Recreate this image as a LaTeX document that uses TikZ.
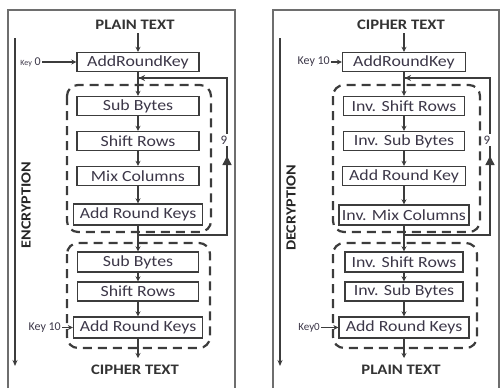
\documentclass[tikz,border=0pt]{standalone}
\usepackage{fontspec}
\setmainfont{Carlito}
\newfontfamily\boxfont[FakeStretch=1.15]{Carlito}
\usetikzlibrary{arrows.meta}
\definecolor{ln}{RGB}{60,60,60}
\definecolor{txt}{RGB}{60,55,72}
\definecolor{frm}{RGB}{110,110,110}
\tikzset{
  stepbox/.style={draw=ln, line width=1.4pt, minimum width=122pt, minimum height=19pt, inner sep=0pt,
     text=txt, font=\boxfont\fontsize{15.5}{16}\selectfont},
  heading/.style={font=\boxfont\bfseries\fontsize{14.5}{15}\selectfont, text=black!80, inner sep=0pt},
  keylbl/.style={font=\fontsize{12}{13}\selectfont, text=txt, inner sep=1pt},
  conn/.style={draw=ln, line width=1.2pt, -{Stealth[length=5pt,width=5pt]}},
  loopline/.style={draw=ln, line width=1.4pt},
  uptip/.style={draw=ln, line width=1.4pt, -{Triangle[length=9pt,width=9pt]}},
  group/.style={draw=ln, line width=2.2pt, dash pattern=on 9pt off 6pt, rounded corners=11pt},
  frame/.style={draw=frm, line width=1.2pt},
  sidelbl/.style={font=\boxfont\bfseries\fontsize{14}{15}\selectfont, text=black!85, rotate=90, inner sep=0pt},
  longarrow/.style={draw=ln, line width=1.3pt, -{Stealth[length=6pt,width=5pt]}},
  ninelbl/.style={font=\fontsize{13}{14}\selectfont, text=txt, fill=white, inner sep=1.5pt}
}
\begin{document}
\begin{tikzpicture}[x=1pt,y=-1pt]
\useasboundingbox (0,0) rectangle (500,389);
% ---------- ENCRYPTION panel ----------
\draw[frame] (8,388) -- (8,10) -- (235,10) -- (235,388);
\node[heading] (pt1) at (135,25) {PLAIN TEXT};
\node[stepbox] (ark0) at (138,62) {AddRoundKey};
\node[stepbox] (sb1) at (138,106) {Sub Bytes};
\node[stepbox] (sr1) at (138,141) {Shift Rows};
\node[stepbox] (mc1) at (138,176) {Mix Columns};
\node[stepbox, minimum width=129pt, minimum height=21pt] (ark1) at (138,214.5) {Add Round Keys};
\node[stepbox, minimum width=121pt, minimum height=20pt] (sb2) at (138,262) {Sub Bytes};
\node[stepbox, minimum width=121pt] (sr2) at (138,291.5) {Shift Rows};
\node[stepbox, minimum width=129pt, minimum height=21pt] (ark2) at (138,327.5) {Add Round Keys};
\node[heading] (ct1) at (135,370) {CIPHER TEXT};
\draw[group] (67,85) rectangle (211,232);
\draw[group] (67,243) rectangle (210,348);
\node[keylbl, anchor=east] (k0) at (42,62) {{\fontsize{8}{9}\selectfont Key} 0};
\node[keylbl, anchor=east] (k10) at (62,327.5) {Key 10};
\draw[conn] (k0) -- (ark0);
\draw[conn] (k10) -- (ark2);
\coordinate (s1) at (138,33);
\draw[conn] (s1) -- (ark0);
\draw[conn] (ark0) -- (sb1);
\draw[conn] (sb1) -- (sr1);
\draw[conn] (sr1) -- (mc1);
\draw[conn] (mc1) -- (ark1);
\draw[conn] (ark1) -- (sb2);
\draw[conn] (sb2) -- (sr2);
\draw[conn] (sr2) -- (ark2);
\coordinate (e1) at (138,358);
\draw[conn] (ark2) -- (e1);
\coordinate (fa) at (138,235);
\coordinate (fb) at (227,235);
\coordinate (fu) at (227,156);
\coordinate (fc) at (227,78);
\coordinate (fd) at (139,78);
\draw[loopline] (fa) -- (fb) -- (fc) -- (fd);
\draw[uptip] (fb) -- (fu);
\draw[loopline, -{Stealth[length=6pt,width=6pt]}] (fc) -- (fd);
\node[ninelbl] (n9l) at (224,140) {9};
\coordinate (la1) at (15,38);
\coordinate (la2) at (15,366);
\draw[longarrow] (la1) -- (la2);
\node[sidelbl] (enc) at (26,205) {ENCRYPTION};
% ---------- DECRYPTION panel ----------
\draw[frame] (273,388) -- (273,10) -- (499,10) -- (499,388);
\node[heading] (ct2) at (401,25) {CIPHER TEXT};
\node[stepbox, minimum width=123pt] (dark0) at (404,62) {AddRoundKey};
\node[stepbox, minimum width=121pt] (isr1) at (404,106) {Inv. Shift Rows};
\node[stepbox, minimum width=121pt] (isb1) at (404,141) {Inv. Sub Bytes};
\node[stepbox, minimum width=123pt] (dark1) at (404,176) {Add Round Key};
\node[stepbox, minimum width=130pt, minimum height=20pt] (imc) at (404,215) {Inv. Mix Columns};
\node[stepbox, minimum width=118pt, minimum height=20pt] (isr2) at (404,262) {Inv. Shift Rows};
\node[stepbox, minimum width=118pt] (isb2) at (404,291.5) {Inv. Sub Bytes};
\node[stepbox, minimum width=130pt, minimum height=21pt] (dark2) at (404,327.5) {Add Round Keys};
\node[heading] (pt2) at (401,370) {PLAIN TEXT};
\draw[group] (333,85) rectangle (480,232);
\draw[group] (333,243) rectangle (477,348);
\node[keylbl, anchor=east] (dk10) at (331,62) {Key 10};
\node[keylbl, anchor=east, font=\fontsize{11}{12}\selectfont] (dk0) at (321,327.5) {Key0};
\draw[conn] (dk10) -- (dark0);
\draw[conn] (dk0) -- (dark2);
\coordinate (s2) at (404,33);
\draw[conn] (s2) -- (dark0);
\draw[conn] (dark0) -- (isr1);
\draw[conn] (isr1) -- (isb1);
\draw[conn] (isb1) -- (dark1);
\draw[conn] (dark1) -- (imc);
\draw[conn] (imc) -- (isr2);
\draw[conn] (isr2) -- (isb2);
\draw[conn] (isb2) -- (dark2);
\coordinate (e2) at (404,358);
\draw[conn] (dark2) -- (e2);
\coordinate (ga) at (404,235);
\coordinate (gb) at (490,235);
\coordinate (gu) at (490,156);
\coordinate (gc) at (490,78);
\coordinate (gd) at (405,78);
\draw[loopline] (ga) -- (gb) -- (gc) -- (gd);
\draw[uptip] (gb) -- (gu);
\draw[loopline, -{Stealth[length=6pt,width=6pt]}] (gc) -- (gd);
\node[ninelbl] (n9r) at (487,140) {9};
\coordinate (lb1) at (280,38);
\coordinate (lb2) at (280,366);
\draw[longarrow] (lb1) -- (lb2);
\node[sidelbl] (dec) at (291,208) {DECRYPTION};
\end{tikzpicture}
\end{document}
